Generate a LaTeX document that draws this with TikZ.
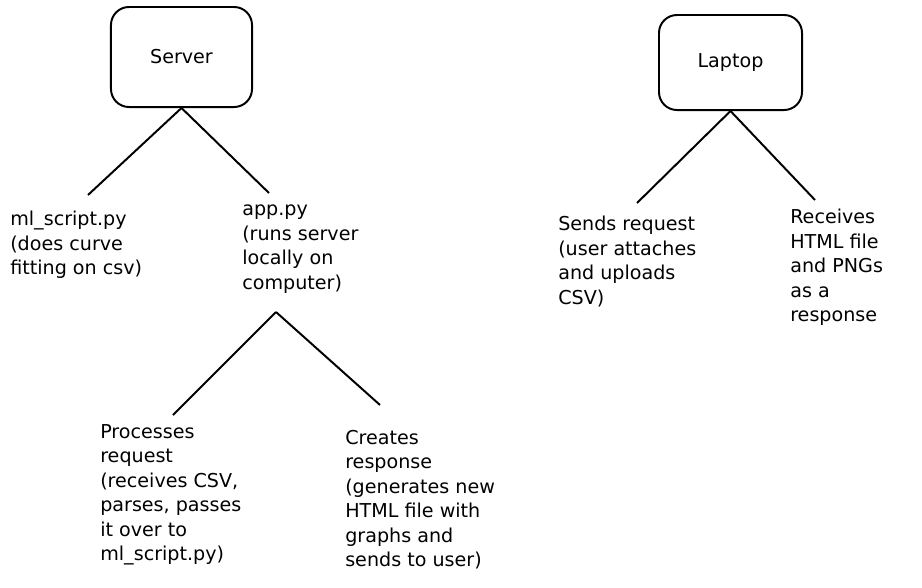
\documentclass[tikz,border=0pt]{standalone}
\usepackage{fontspec}
\setmainfont{DejaVu Sans}

\begin{document}
\begin{tikzpicture}[x=0.025cm, y=-0.025cm,
  box/.style={draw, line width=1.4pt, rounded corners=0.45cm,
    minimum width=3.525cm, minimum height=2.5cm,
    font=\fontsize{13.6}{17.4}\selectfont},
  note/.style={anchor=north west, align=left, inner sep=0pt,
    font=\fontsize{13.6}{17.4}\selectfont},
  branch/.style={line width=1.4pt}]

  \fill[white] (0, 0) rectangle (922, 587);

  % SERVER SIDE
  \node[box] (server) at (181.5, 57) {Server};
  \node[note] (mlscript) at (10, 211) {ml\_script.py\\(does curve\\fitting on csv)};
  \node[note] (app) at (242, 205) {app.py\\(runs server\\locally on\\computer)};
  \node[note] (process) at (100, 424) {Processes\\request\\(receives CSV,\\parses, passes\\it over to\\ml\_script.py)};
  \node[note] (create) at (345, 430) {Creates\\response\\(generates new\\HTML file with\\graphs and\\sends to user)};

  % LAPTOP SIDE
  \node[box, minimum width=3.575cm, minimum height=2.375cm] (laptop) at (730.5, 62.5) {Laptop};
  \node[note] (sends) at (558, 216) {Sends request\\(user attaches\\and uploads\\CSV)};
  \node[note] (receives) at (790, 209) {Receives\\HTML file\\and PNGs\\as a\\response};

  % LINE ENDS
  \coordinate (mlend) at (88, 195);
  \coordinate (append) at (269, 193);
  \coordinate (appfork) at (276, 312);
  \coordinate (processend) at (173, 415);
  \coordinate (createend) at (380, 405);
  \coordinate (sendsend) at (637, 203);
  \coordinate (receivesend) at (815, 200);

  % BRANCHES
  \draw[branch] (server.south) -- (mlend);
  \draw[branch] (server.south) -- (append);
  \draw[branch] (appfork) -- (processend);
  \draw[branch] (appfork) -- (createend);
  \draw[branch] (laptop.south) -- (sendsend);
  \draw[branch] (laptop.south) -- (receivesend);

\end{tikzpicture}
\end{document}
